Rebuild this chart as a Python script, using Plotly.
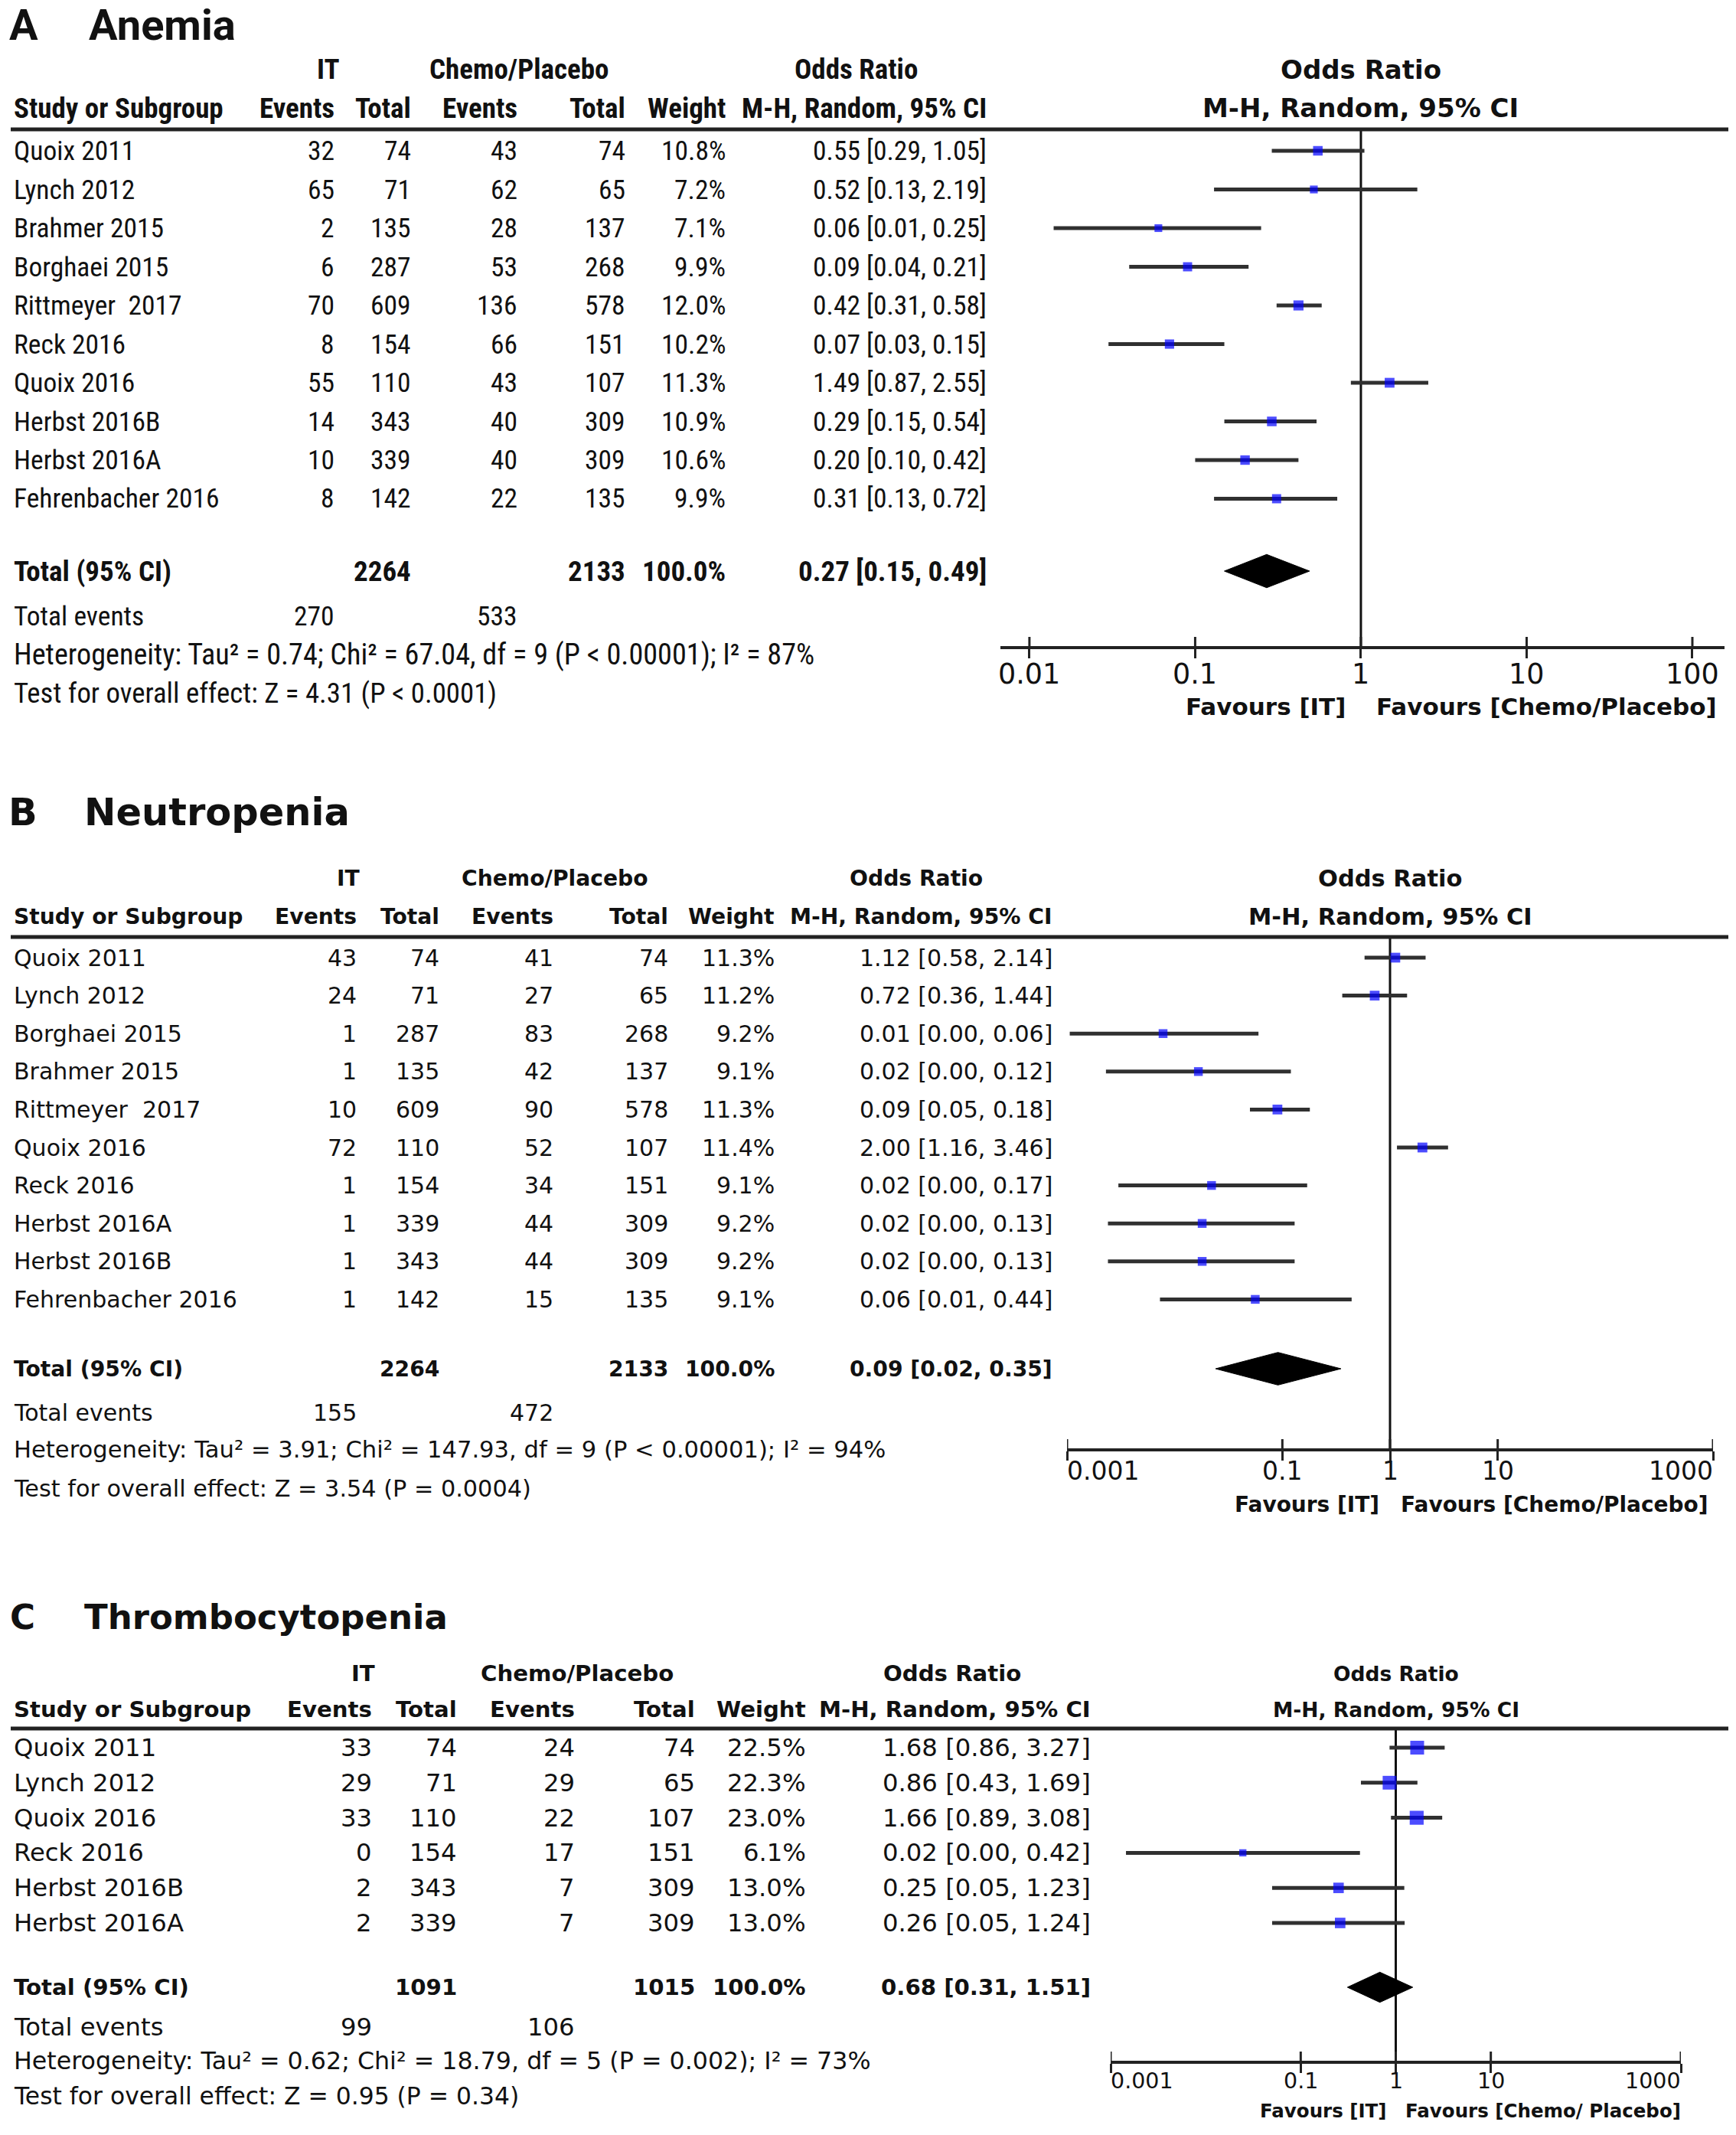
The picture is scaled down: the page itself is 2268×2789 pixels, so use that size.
import numpy as np
import plotly.graph_objects as go

W, H = 2268, 2789
INK = "#111111"
NB = "\u00a0"
NARROW = "Liberation Sans Narrow, Arial Narrow, Roboto Condensed, DejaVu Sans Condensed, Roboto"
ROBOTO = "Roboto"
DEJAVU = "DejaVu Sans"

# ---------------- DATA ----------------
# A  Anemia
studies_A = ["Quoix 2011", "Lynch 2012", "Brahmer 2015", "Borghaei 2015", "Rittmeyer" + NB + " 2017",
             "Reck 2016", "Quoix 2016", "Herbst 2016B", "Herbst 2016A", "Fehrenbacher 2016"]
it_events_A = [32, 65, 2, 6, 70, 8, 55, 14, 10, 8]
it_total_A = [74, 71, 135, 287, 609, 154, 110, 343, 339, 142]
ch_events_A = [43, 62, 28, 53, 136, 66, 43, 40, 40, 22]
ch_total_A = [74, 65, 137, 268, 578, 151, 107, 309, 309, 135]
weight_A = [10.8, 7.2, 7.1, 9.9, 12.0, 10.2, 11.3, 10.9, 10.6, 9.9]
or_A = [0.55, 0.52, 0.06, 0.09, 0.42, 0.07, 1.49, 0.29, 0.20, 0.31]
lo_A = [0.29, 0.13, 0.014, 0.04, 0.31, 0.03, 0.87, 0.15, 0.10, 0.13]
hi_A = [1.05, 2.19, 0.25, 0.21, 0.58, 0.15, 2.55, 0.54, 0.42, 0.72]
total_A = dict(it_total=2264, ch_total=2133, weight=100.0, est=0.27, lo=0.15, hi=0.49,
               it_events=270, ch_events=533)
het_A = "Heterogeneity: Tau² = 0.74; Chi² = 67.04, df = 9 (P < 0.00001); I² = 87%"
test_A = "Test for overall effect: Z = 4.31 (P < 0.0001)"
ticks_A = [0.01, 0.1, 1, 10, 100]
ticktext_A = ["0.01", "0.1", "1", "10", "100"]
fav_A = ["Favours [IT]", "Favours [Chemo/Placebo]"]

# B  Neutropenia
studies_B = ["Quoix 2011", "Lynch 2012", "Borghaei 2015", "Brahmer 2015", "Rittmeyer" + NB + " 2017",
             "Quoix 2016", "Reck 2016", "Herbst 2016A", "Herbst 2016B", "Fehrenbacher 2016"]
it_events_B = [43, 24, 1, 1, 10, 72, 1, 1, 1, 1]
it_total_B = [74, 71, 287, 135, 609, 110, 154, 339, 343, 142]
ch_events_B = [41, 27, 83, 42, 90, 52, 34, 44, 44, 15]
ch_total_B = [74, 65, 268, 137, 578, 107, 151, 309, 309, 135]
weight_B = [11.3, 11.2, 9.2, 9.1, 11.3, 11.4, 9.1, 9.2, 9.2, 9.1]
or_B = [1.12, 0.72, 0.0078, 0.0166, 0.09, 2.00, 0.022, 0.018, 0.018, 0.056]
lo_B = [0.58, 0.36, 0.00106, 0.0023, 0.05, 1.16, 0.003, 0.0024, 0.0024, 0.0073]
hi_B = [2.14, 1.44, 0.06, 0.12, 0.18, 3.46, 0.17, 0.13, 0.13, 0.44]
total_B = dict(it_total=2264, ch_total=2133, weight=100.0, est=0.091, lo=0.024, hi=0.35,
               it_events=155, ch_events=472)
het_B = "Heterogeneity: Tau² = 3.91; Chi² = 147.93, df = 9 (P < 0.00001); I² = 94%"
test_B = "Test for overall effect: Z = 3.54 (P = 0.0004)"
ticks_B = [0.001, 0.1, 1, 10, 1000]
ticktext_B = ["0.001", "0.1", "1", "10", "1000"]
fav_B = ["Favours [IT]", "Favours [Chemo/Placebo]"]

# C  Thrombocytopenia
studies_C = ["Quoix 2011", "Lynch 2012", "Quoix 2016", "Reck 2016", "Herbst 2016B", "Herbst 2016A"]
it_events_C = [33, 29, 33, 0, 2, 2]
it_total_C = [74, 71, 110, 154, 343, 339]
ch_events_C = [24, 29, 22, 17, 7, 7]
ch_total_C = [74, 65, 107, 151, 309, 309]
weight_C = [22.5, 22.3, 23.0, 6.1, 13.0, 13.0]
or_C = [1.68, 0.86, 1.66, 0.0246, 0.25, 0.26]
lo_C = [0.86, 0.43, 0.89, 0.00145, 0.05, 0.05]
hi_C = [3.27, 1.69, 3.08, 0.42, 1.23, 1.24]
total_C = dict(it_total=1091, ch_total=1015, weight=100.0, est=0.68, lo=0.31, hi=1.51,
               it_events=99, ch_events=106)
het_C = "Heterogeneity: Tau² = 0.62; Chi² = 18.79, df = 5 (P = 0.002); I² = 73%"
test_C = "Test for overall effect: Z = 0.95 (P = 0.34)"
ticks_C = [0.001, 0.1, 1, 10, 1000]
ticktext_C = ["0.001", "0.1", "1", "10", "1000"]
fav_C = ["Favours [IT]", "Favours [Chemo/ Placebo]"]

# ---------------- LAYOUT CONSTANTS (pixels) ----------------
panels = [
    dict(letter="A", title="Anemia", studies=studies_A, ite=it_events_A, itt=it_total_A,
         che=ch_events_A, cht=ch_total_A, w=weight_A, est=or_A, lo=lo_A, hi=hi_A, tot=total_A,
         het=het_A, test=test_A, ticks=ticks_A, ticktext=ticktext_A, fav=fav_A,
         letter_x=12, title_x=116, title_y=33, title_size=56, title_font=ROBOTO,
         h1_y=91, h2_y=141, line_y=169, row0=197, sp=50.5, total_y=746, ev_y=805,
         het_y=855, test_y=906, axis_y=844, tick_y=880, fav_y=923,
         x_left=1307, x_right=2253, lrange=[-2.175, 2.194], edge=False,
         c_study=18, c_ite=437, c_itt=537, c_che=676, c_cht=817, c_w=948, c_ci=1289,
         c_it=429, c_ch=678, c_or=1118,
         tfont=NARROW, size=35.5, bsize=37, het_size=38.2, test_size=36.8,
         rfont=DEJAVU, rh_size=34, tick_size=36.5, fav_size=31, fav_gap=20),
    dict(letter="B", title="Neutropenia", studies=studies_B, ite=it_events_B, itt=it_total_B,
         che=ch_events_B, cht=ch_total_B, w=weight_B, est=or_B, lo=lo_B, hi=hi_B, tot=total_B,
         het=het_B, test=test_B, ticks=ticks_B, ticktext=ticktext_B, fav=fav_B,
         letter_x=11, title_x=110, title_y=1061, title_size=49.5, title_font=DEJAVU,
         h1_y=1148, h2_y=1197, line_y=1224, row0=1251, sp=49.6, total_y=1788, ev_y=1845,
         het_y=1894, test_y=1944, axis_y=1892, tick_y=1921, fav_y=1965,
         x_left=1394, x_right=2238, lrange=[-3, 3], edge=True,
         c_study=18, c_ite=466, c_itt=574, c_che=723, c_cht=873, c_w=1012, c_ci=1375,
         c_it=455, c_ch=725, c_or=1197,
         tfont=DEJAVU, size=30, bsize=28.2, het_size=30.6, test_size=30.3,
         rfont=DEJAVU, rh_size=30.5, tick_size=33, fav_size=28, fav_gap=14),
    dict(letter="C", title="Thrombocytopenia", studies=studies_C, ite=it_events_C, itt=it_total_C,
         che=ch_events_C, cht=ch_total_C, w=weight_C, est=or_C, lo=lo_C, hi=hi_C, tot=total_C,
         het=het_C, test=test_C, ticks=ticks_C, ticktext=ticktext_C, fav=fav_C,
         letter_x=13, title_x=110, title_y=2112, title_size=45, title_font=DEJAVU,
         h1_y=2186, h2_y=2233, line_y=2258, row0=2283, sp=45.8, total_y=2596, ev_y=2648,
         het_y=2692, test_y=2738, axis_y=2692, tick_y=2718, fav_y=2757,
         x_left=1451, x_right=2196, lrange=[-3, 3], edge=True,
         c_study=18, c_ite=486, c_itt=597, c_che=751, c_cht=908, c_w=1053, c_ci=1425,
         c_it=474, c_ch=754, c_or=1244,
         tfont=DEJAVU, size=32.3, bsize=29.2, het_size=31.7, test_size=31.4,
         rfont=DEJAVU, rh_size=26.5, tick_size=28.5, fav_size=24.5, fav_gap=12),
]

fig = go.Figure()
annotations = []
shapes = []


def ppx(p):
    return p / W


def ppy(p):
    return 1 - p / H


def txt(s, x, y, anchor="left", size=32, bold=False, xref="paper", xshift=0, family=ROBOTO):
    annotations.append(dict(
        text=f"<b>{s}</b>" if bold else s,
        x=ppx(x) if xref == "paper" else x, y=ppy(y), xref=xref, yref="paper",
        xanchor=anchor, yanchor="middle", showarrow=False, xshift=xshift,
        borderpad=0, borderwidth=0,
        font=dict(family=family, size=size, color=INK)))


def fmt_ci(e, l, h):
    return f"{e:.2f} [{l:.2f}, {h:.2f}]"


layout_axes = {}
for k, P in enumerate(panels):
    n = k + 1
    xa = "x" if n == 1 else f"x{n}"
    ya = "y" if n == 1 else f"y{n}"
    xkey = "xaxis" if n == 1 else f"xaxis{n}"
    ykey = "yaxis" if n == 1 else f"yaxis{n}"
    s, b, tf, rf = P["size"], P["bsize"], P["tfont"], P["rfont"]
    sp = P["sp"]
    r_top = (P["line_y"] - P["row0"]) / sp
    r_bot = (P["axis_y"] - P["row0"]) / sp
    total_r = (P["total_y"] - P["row0"]) / sp

    def row_y(i):
        return P["row0"] + i * sp

    # titles
    txt(P["letter"], P["letter_x"], P["title_y"], size=P["title_size"], bold=True,
        family=P["title_font"])
    txt(P["title"], P["title_x"], P["title_y"], size=P["title_size"], bold=True,
        family=P["title_font"])
    # header row 1
    txt("IT", P["c_it"], P["h1_y"], "center", b, True, family=tf)
    txt("Chemo/Placebo", P["c_ch"], P["h1_y"], "center", b, True, family=tf)
    txt("Odds Ratio", P["c_or"], P["h1_y"], "center", b, True, family=tf)
    txt("Odds Ratio", 0, P["h1_y"], "center", P["rh_size"], True, xref=xa, family=rf)
    # header row 2
    txt("Study or Subgroup", P["c_study"], P["h2_y"], "left", b, True, family=tf)
    txt("Events", P["c_ite"], P["h2_y"], "right", b, True, family=tf)
    txt("Total", P["c_itt"], P["h2_y"], "right", b, True, family=tf)
    txt("Events", P["c_che"], P["h2_y"], "right", b, True, family=tf)
    txt("Total", P["c_cht"], P["h2_y"], "right", b, True, family=tf)
    txt("Weight", P["c_w"], P["h2_y"], "right", b, True, family=tf)
    txt("M-H, Random, 95% CI", P["c_ci"], P["h2_y"], "right", b, True, family=tf)
    txt("M-H, Random, 95% CI", 0, P["h2_y"], "center", P["rh_size"], True, xref=xa, family=rf)
    # header rule
    shapes.append(dict(type="line", xref="paper", yref="paper", x0=ppx(14), x1=ppx(2258),
                       y0=ppy(P["line_y"]), y1=ppy(P["line_y"]),
                       line=dict(color="#222222", width=5)))
    # study rows
    for i, name in enumerate(P["studies"]):
        y = row_y(i)
        txt(name, P["c_study"], y, "left", s, family=tf)
        txt(str(P["ite"][i]), P["c_ite"], y, "right", s, family=tf)
        txt(str(P["itt"][i]), P["c_itt"], y, "right", s, family=tf)
        txt(str(P["che"][i]), P["c_che"], y, "right", s, family=tf)
        txt(str(P["cht"][i]), P["c_cht"], y, "right", s, family=tf)
        txt(f"{P['w'][i]:.1f}%", P["c_w"], y, "right", s, family=tf)
        txt(fmt_ci(P["est"][i], P["lo"][i], P["hi"][i]), P["c_ci"], y, "right", s, family=tf)
    T = P["tot"]
    txt("Total (95% CI)", P["c_study"], P["total_y"], "left", b, True, family=tf)
    txt(str(T["it_total"]), P["c_itt"], P["total_y"], "right", b, True, family=tf)
    txt(str(T["ch_total"]), P["c_cht"], P["total_y"], "right", b, True, family=tf)
    txt(f"{T['weight']:.1f}%", P["c_w"], P["total_y"], "right", b, True, family=tf)
    txt(fmt_ci(T["est"], T["lo"], T["hi"]), P["c_ci"], P["total_y"], "right", b, True, family=tf)
    txt("Total events", P["c_study"], P["ev_y"], "left", s, family=tf)
    txt(str(T["it_events"]), P["c_ite"], P["ev_y"], "right", s, family=tf)
    txt(str(T["ch_events"]), P["c_che"], P["ev_y"], "right", s, family=tf)
    txt(P["het"], P["c_study"], P["het_y"], "left", P["het_size"], family=tf)
    txt(P["test"], P["c_study"], P["test_y"], "left", P["test_size"], family=tf)

    # forest plot traces
    fig.add_trace(go.Scatter(x=[1, 1], y=[r_top, r_bot], mode="lines", xaxis=xa, yaxis=ya,
                             line=dict(color="#111111", width=3), hoverinfo="skip",
                             showlegend=False))
    cx, cy = [], []
    for i in range(len(P["studies"])):
        cx += [P["lo"][i], P["hi"][i], None]
        cy += [i, i, None]
    fig.add_trace(go.Scatter(x=cx, y=cy, mode="lines", xaxis=xa, yaxis=ya,
                             line=dict(color="#303030", width=5), hoverinfo="skip",
                             showlegend=False))
    fig.add_trace(go.Scatter(x=P["est"], y=list(range(len(P["studies"]))), mode="markers",
                             xaxis=xa, yaxis=ya, showlegend=False,
                             marker=dict(symbol="square", color="#0000ff",
                                         size=[3.8 * np.sqrt(w) for w in P["w"]],
                                         line=dict(width=0))))
    hd = 0.43
    fig.add_trace(go.Scatter(x=[T["lo"], T["est"], T["hi"], T["est"], T["lo"]],
                             y=[total_r, total_r - hd, total_r, total_r + hd, total_r],
                             mode="lines", fill="toself", fillcolor="#000000",
                             line=dict(color="#000000", width=1), xaxis=xa, yaxis=ya,
                             showlegend=False, hoverinfo="skip"))
    # upward part of tick marks
    tx, ty = [], []
    up = 12 / sp
    for tv in P["ticks"]:
        tx += [tv, tv, None]
        ty += [r_bot, r_bot - up, None]
    fig.add_trace(go.Scatter(x=tx, y=ty, mode="lines", xaxis=xa, yaxis=ya,
                             line=dict(color="#222222", width=3), hoverinfo="skip",
                             showlegend=False))
    # tick labels
    nt = len(P["ticks"])
    for j, (tv, tt) in enumerate(zip(P["ticks"], P["ticktext"])):
        anchor = "center"
        if P["edge"] and j == 0:
            anchor = "left"
        elif P["edge"] and j == nt - 1:
            anchor = "right"
        txt(tt, float(np.log10(tv)), P["tick_y"], anchor, P["tick_size"], False, xref=xa,
            family=rf)
    # favours labels
    txt(P["fav"][0], 0, P["fav_y"], "right", P["fav_size"], True, xref=xa,
        xshift=-P["fav_gap"], family=rf)
    txt(P["fav"][1], 0, P["fav_y"], "left", P["fav_size"], True, xref=xa,
        xshift=P["fav_gap"], family=rf)

    layout_axes[xkey] = dict(type="log", range=P["lrange"],
                             domain=[ppx(P["x_left"]), ppx(P["x_right"])], anchor=ya,
                             showline=True, linecolor="#222222", linewidth=4,
                             ticks="outside", ticklen=12, tickwidth=3, tickcolor="#222222",
                             tickvals=P["ticks"], showticklabels=False, showgrid=False,
                             zeroline=False, fixedrange=True)
    layout_axes[ykey] = dict(range=[r_bot, r_top], domain=[ppy(P["axis_y"]), ppy(P["line_y"])],
                             anchor=xa, visible=False, showgrid=False, zeroline=False,
                             fixedrange=True)

fig.update_layout(width=W, height=H, margin=dict(l=0, r=0, t=0, b=0),
                  paper_bgcolor="white", plot_bgcolor="white", showlegend=False,
                  annotations=annotations, shapes=shapes, **layout_axes)

fig.write_html("out.html", config={"displayModeBar": False},
               post_script="document.body.style.margin='0px';document.body.style.padding='0px';"
                           "document.documentElement.style.overflow='hidden';")
